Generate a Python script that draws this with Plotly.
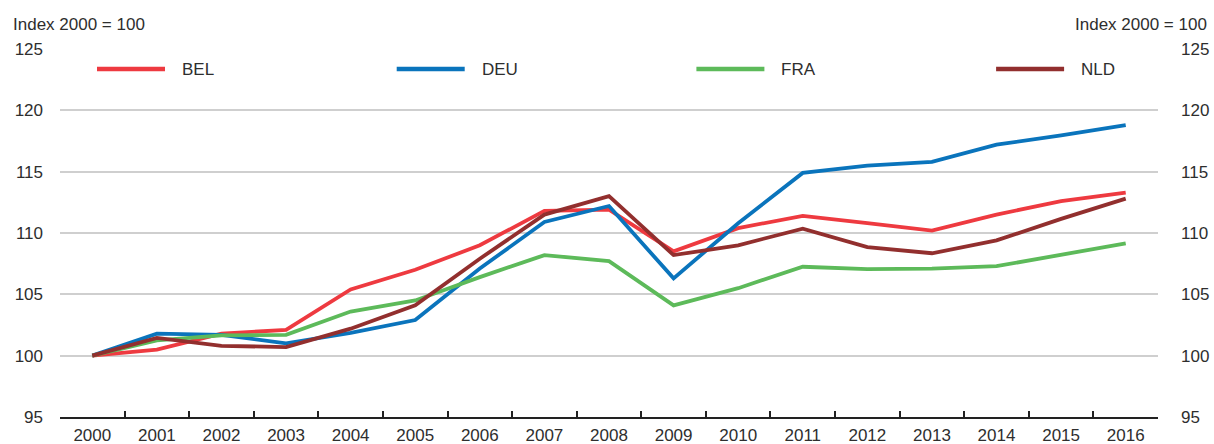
import plotly.graph_objects as go

years = [str(y) for y in range(2000, 2017)]
series_names = ["BEL", "DEU", "FRA", "NLD"]
bel = [100, 100.5, 101.8, 102.1, 105.4, 107.0, 109.0, 111.8, 111.9, 108.5, 110.4, 111.4, 110.8, 110.2, 111.5, 112.6, 113.3]
deu = [100, 101.8, 101.7, 101.0, 101.85, 102.9, 107.1, 110.9, 112.2, 106.3, 110.8, 114.9, 115.5, 115.8, 117.2, 117.95, 118.8]
fra = [100, 101.25, 101.65, 101.7, 103.6, 104.5, 106.4, 108.2, 107.7, 104.1, 105.5, 107.25, 107.05, 107.1, 107.3, 108.2, 109.15]
nld = [100, 101.45, 100.8, 100.7, 102.2, 104.1, 107.9, 111.5, 113.0, 108.2, 109.0, 110.35, 108.85, 108.35, 109.4, 111.15, 112.8]
y_ticks = [95, 100, 105, 110, 115, 120, 125]
axis_title = "Index 2000 = 100"

colors = ["#EE3A40", "#0A74BC", "#5DBA5A", "#922F2E"]
values = [bel, deu, fra, nld]

FONT = "Liberation Sans, Arial, sans-serif"
FS = 17
TXT = "#2E2E2E"

fig = go.Figure()
for name, vals, col in zip(series_names, values, colors):
    fig.add_trace(go.Scatter(x=years, y=vals, mode="lines", name=name,
                             line=dict(color=col, width=3.8), showlegend=False,
                             hoverinfo="x+y+name"))
# invisible trace on right axis
fig.add_trace(go.Scatter(x=years, y=bel, yaxis="y2", mode="lines",
                         line=dict(width=0), opacity=0, showlegend=False, hoverinfo="skip"))

W, H = 1214, 444
L, R, T, B = 60, 56, 48.5, 27
pw = W - L - R
ph = H - T - B

def px_x(px):
    return (px - L) / pw

def px_y(py):
    return (H - B - py) / ph

shapes = []
annotations = []
for i, (name, col) in enumerate(zip(series_names, colors)):
    x0 = 97 + 299.7 * i
    shapes.append(dict(type="line", xref="paper", yref="paper",
                       x0=px_x(x0), x1=px_x(x0 + 68), y0=px_y(68.5), y1=px_y(68.5),
                       line=dict(color=col, width=4.5)))
    annotations.append(dict(text=name, xref="paper", yref="paper",
                            x=px_x(x0 + 83), y=px_y(69), xanchor="left", yanchor="middle",
                            showarrow=False, font=dict(family=FONT, size=FS, color=TXT)))

annotations.append(dict(text=axis_title, xref="paper", yref="paper",
                        x=px_x(11), y=px_y(24), xanchor="left", yanchor="middle",
                        showarrow=False, font=dict(family=FONT, size=FS, color=TXT)))
annotations.append(dict(text=axis_title, xref="paper", yref="paper",
                        x=px_x(1209), y=px_y(24), xanchor="right", yanchor="middle",
                        showarrow=False, font=dict(family=FONT, size=FS, color=TXT)))

fig.update_layout(
    width=W, height=H,
    margin=dict(l=L, r=R, t=T, b=B, autoexpand=False),
    paper_bgcolor="white", plot_bgcolor="white",
    font=dict(family=FONT, size=FS, color=TXT),
    xaxis=dict(type="category", range=[-0.5, 16.5], showgrid=False, automargin=False,
               showline=True, linecolor="#222222", linewidth=2,
               ticks="inside", tickson="boundaries", ticklen=6, tickwidth=2, tickcolor="#222222",
               tickfont=dict(family=FONT, size=FS, color=TXT), ticklabelstandoff=2),
    yaxis=dict(range=[95, 125], tickvals=y_ticks, showgrid=True, gridcolor="#CFCFCF", gridwidth=1.5,
               zeroline=False, showline=False, ticks="", automargin=False,
               tickfont=dict(family=FONT, size=FS, color=TXT), ticklabelstandoff=16),
    yaxis2=dict(range=[95, 125], tickvals=y_ticks, overlaying="y", side="right", showgrid=False,
                zeroline=False, showline=False, ticks="", automargin=False,
                tickfont=dict(family=FONT, size=FS, color=TXT), ticklabelstandoff=22),
    shapes=shapes,
    annotations=annotations,
    showlegend=False,
)

fig.write_html("out.html", config={"displayModeBar": False},
               post_script="document.body.style.margin='0px';document.body.style.overflow='hidden';")
